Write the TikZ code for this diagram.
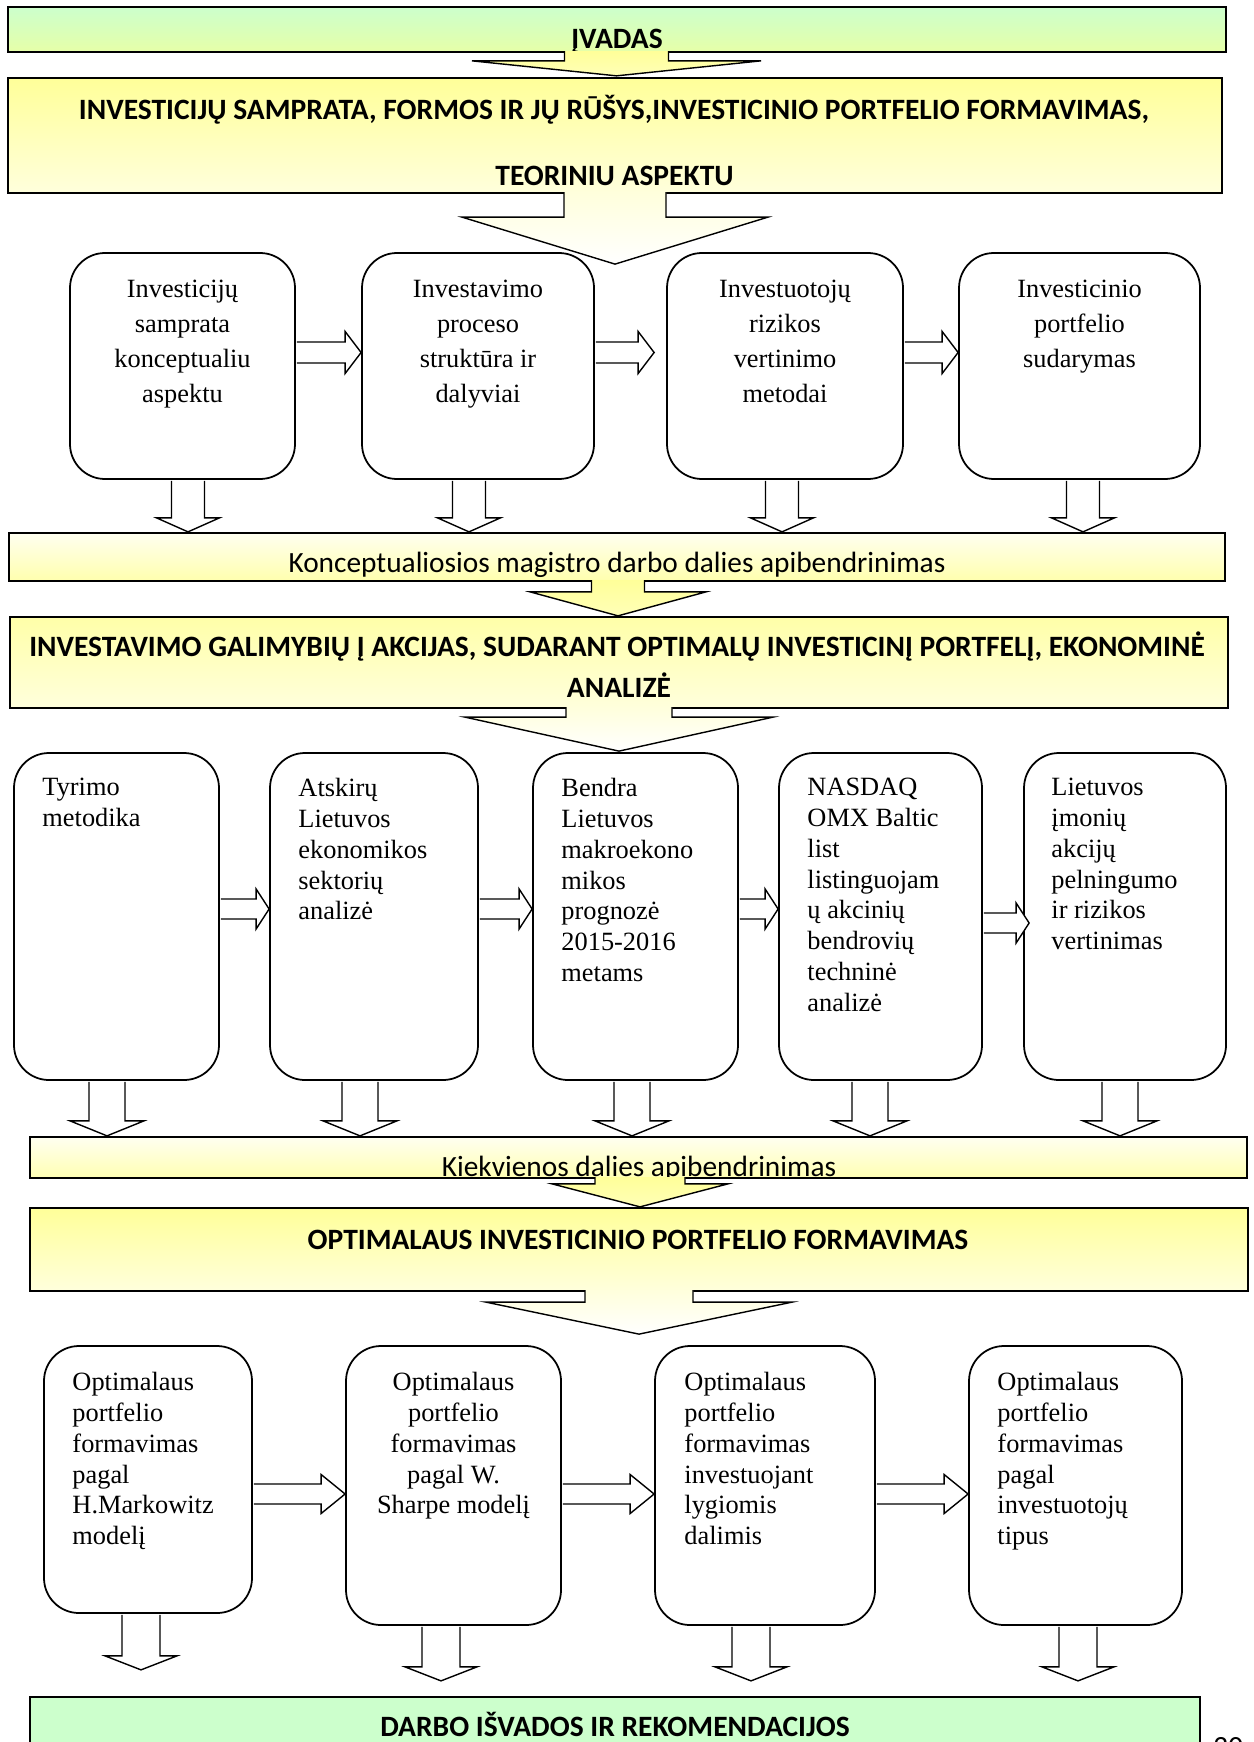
\documentclass[tikz,border=0pt]{standalone}
\usepackage{fontspec}
\setmainfont{Liberation Serif}
\newfontfamily\calib{Carlito}
\usetikzlibrary{calc}

\definecolor{mint}{HTML}{CCFFCC}
\definecolor{limey}{HTML}{E6FFA8}
\definecolor{lemon}{HTML}{FFFF99}
\definecolor{cream}{HTML}{FFFFDC}
\definecolor{ivory}{HTML}{FFFFF0}

\tikzset{
  lap/.store in=\lap, lap=-1,
  banner/.style={draw, line width=1.3pt, inner sep=0pt},
  card/.style={draw, line width=1pt, rounded corners=7mm, inner sep=0pt},
  cardtext/.style={inner sep=0pt, anchor=north, align=center, font=\fontsize{15}{19.9}\selectfont},
  listtext/.style={inner sep=0pt, anchor=north west, align=left, font=\fontsize{15}{17.5}\selectfont},
  head/.style={inner sep=0pt, anchor=base, font=\calib\bfseries\fontsize{16.8}{20}\selectfont},
  subhead/.style={inner sep=0pt, anchor=base, font=\calib\fontsize{16.7}{20}\selectfont},
  blk/.style={draw, line width=0.8pt, fill=white},
  sunny/.style={lap=2, top color=lemon, bottom color=lemon!70!white},
  pale/.style={lap=2, top color=cream, bottom color=white},
}

% block arrow down: [style] from, to, x, gap, shaft half, head half, head length
\newcommand\drop[8][]{%
  \filldraw[blk,#1] ($(#2.south -| #4,0)+(-#6,\lap)$) -- ($(#3.north -| #4,0)+(-#6,#5+#8)$)
    -- ++(#6-#7,0) -- ($(#3.north -| #4,0)+(0,#5)$) -- ++(#7,#8) -- ++(#6-#7,0)
    -- ($(#2.south -| #4,0)+(#6,\lap)$);}

% block arrow right: [gap] from, to, y, shaft half, head half, head length
\newcommand\push[7][0]{%
  \filldraw[blk] ($(#2.east |- 0,#4)+(1,#5)$) -- ($(#3.west |- 0,#4)+(-#1-#7,#5)$) -- ++(0,#6-#5)
    -- ($(#3.west |- 0,#4)+(-#1,0)$) -- ++(-#7,-#6) -- ++(0,#6-#5) -- ($(#2.east |- 0,#4)+(1,-#5)$);}

\begin{document}
\begin{tikzpicture}[x=0.2mm,y=0.2mm]

\def\px{0.2mm}
\useasboundingbox (0,0) rectangle (1253,-1742);

% bands
\node[banner, top color=mint, bottom color=limey, minimum width=1218*\px, minimum height=45*\px] (intro) at (617,-29.5) {};
\node[banner, top color=lemon, bottom color=cream, minimum width=1214*\px, minimum height=115*\px] (theory) at (615,-135.5) {};
\node[banner, top color=ivory, bottom color=lemon!80!white, minimum width=1216*\px, minimum height=48*\px] (sum1) at (617,-557) {};
\node[banner, top color=lemon!85!white, bottom color=cream, minimum width=1218*\px, minimum height=91*\px] (analysis) at (619,-662.5) {};
\node[banner, top color=ivory, bottom color=lemon!75!white, minimum width=1217*\px, minimum height=41*\px] (sum2) at (638.5,-1157.5) {};
\node[banner, top color=lemon, bottom color=cream, minimum width=1218*\px, minimum height=83*\px] (optimum) at (639,-1249.5) {};
\node[banner, fill=mint, minimum width=1170*\px, minimum height=93*\px] (findings) at (615,-1743.5) {};

\node[head] (introt) at (617,-49) {ĮVADAS};
\node[head] (theoryt1) at (614,-119.5) {INVESTICIJŲ SAMPRATA, FORMOS IR JŲ RŪŠYS,INVESTICINIO PORTFELIO FORMAVIMAS,};
\node[head] (theoryt2) at (614.5,-186) {TEORINIU ASPEKTU};
\node[subhead] (sum1t) at (617,-572) {Konceptualiosios magistro darbo dalies apibendrinimas};
\node[head] (analysist1) at (617,-656.5) {INVESTAVIMO GALIMYBIŲ Į AKCIJAS, SUDARANT OPTIMALŲ INVESTICINĮ PORTFELĮ, EKONOMINĖ};
\node[head] (analysist2) at (619,-697.5) {ANALIZĖ};
\node[subhead] (sum2t) at (639,-1176) {Kiekvienos dalies apibendrinimas};
\node[head] (optimumt) at (638,-1249) {OPTIMALAUS INVESTICINIO PORTFELIO FORMAVIMAS};
\node[head] (findingst) at (615,-1736) {DARBO IŠVADOS IR REKOMENDACIJOS};
\node[subhead, anchor=north west] (page) at (1213,-1737) {20};

% cards
\foreach \n/\x/\w in {b1/182.5/225, b2/478/232, b3/785/236, b4/1079.5/241}
  \node[card, minimum width=\w*\px, minimum height=226*\px] (\n) at (\x,-366) {};
\foreach \n/\x/\w in {c1/116.5/205, c2/374/208, c3/635.5/205, c4/880.5/203, c5/1125/202}
  \node[card, minimum width=\w*\px, minimum height=327*\px] (\n) at (\x,-916.5) {};
\node[card, minimum width=208*\px, minimum height=267*\px] (d1) at (148,-1479.5) {};
\foreach \n/\x/\w in {d2/453.5/215, d3/765/220, d4/1075.5/213}
  \node[card, minimum width=\w*\px, minimum height=279*\px] (\n) at (\x,-1485.5) {};

\node[cardtext] (b1t) at ($(b1.north)+(0,-28)$) {Investicijų\\samprata\\konceptualiu\\aspektu};
\node[cardtext] (b2t) at ($(b2.north)+(0,-28)$) {Investavimo\\proceso\\struktūra ir\\dalyviai};
\node[cardtext] (b3t) at ($(b3.north)+(0,-28)$) {Investuotojų\\rizikos\\vertinimo\\metodai};
\node[cardtext] (b4t) at ($(b4.north)+(0,-28)$) {Investicinio\\portfelio\\sudarymas};

\node[listtext] (c1t) at ($(c1.north west)+(29,-26)$) {Tyrimo\\metodika};
\node[listtext] (c2t) at ($(c2.north west)+(29,-26)$) {Atskirų\\Lietuvos\\ekonomikos\\sektorių\\analizė};
\node[listtext] (c3t) at ($(c3.north west)+(29,-26)$) {Bendra\\Lietuvos\\makroekono\\mikos\\prognozė\\2015-2016\\metams};
\node[listtext] (c4t) at ($(c4.north west)+(29,-26)$) {NASDAQ\\OMX Baltic\\list\\listinguojam\\ų akcinių\\bendrovių\\techninė\\analizė};
\node[listtext] (c5t) at ($(c5.north west)+(28,-26)$) {Lietuvos\\įmonių\\akcijų\\pelningumo\\ir rizikos\\vertinimas};

\node[listtext] (d1t) at ($(d1.north west)+(29,-27)$) {Optimalaus\\portfelio\\formavimas\\pagal\\H.Markowitz\\modelį};
\node[listtext, anchor=north, align=center] (d2t) at ($(d2.north)+(0,-27)$) {Optimalaus\\portfelio\\formavimas\\pagal W.\\Sharpe modelį};
\node[listtext] (d3t) at ($(d3.north west)+(30,-27)$) {Optimalaus\\portfelio\\formavimas\\investuojant\\lygiomis\\dalimis};
\node[listtext] (d4t) at ($(d4.north west)+(29,-27)$) {Optimalaus\\portfelio\\formavimas\\pagal\\investuotojų\\tipus};

% arrows
\drop[sunny]{intro}{theory}{616.5}{1}{52}{144.5}{15}
\drop[pale]{theory}{b2}{615}{-12}{51}{153}{47}
\foreach \n/\x in {b1/188,b2/469,b3/782,b4/1083} {\drop{\n}{sum1}{\x}{0}{16.5}{31.5}{14}}
\push{b1}{b2}{-352.5}{10.5}{21}{16}
\push[12]{b2}{b3}{-352.5}{10.5}{21}{16}
\push{b3}{b4}{-352.5}{10.5}{21}{16}

\drop[sunny]{sum1}{analysis}{618}{0}{26.5}{88}{24}
\drop[pale]{analysis}{c3}{619}{1}{53}{154}{34}
\foreach \n/\x in {c1/107,c2/360,c3/632,c4/870,c5/1120} {\drop{\n}{sum2}{\x}{0}{18}{37}{15}}
\foreach \a/\b in {c1/c2,c2/c3,c3/c4} {\push{\a}{\b}{-909}{10}{20}{13}}
\push[-6]{c4}{c5}{-923}{10}{20}{13}

\drop[sunny]{sum2}{optimum}{640}{0}{45}{88}{23}
\drop[pale]{optimum}{d3}{639}{11}{54}{153}{32}
\drop{d1}{findings}{141}{26}{19}{36}{14}
\foreach \n/\x in {d2/441,d3/751,d4/1078} {\drop{\n}{findings}{\x}{15}{19}{36}{14}}
\foreach \a/\b in {d1/d2,d2/d3,d3/d4} {\push{\a}{\b}{-1494}{10}{19.5}{24}}

\end{tikzpicture}
\end{document}
